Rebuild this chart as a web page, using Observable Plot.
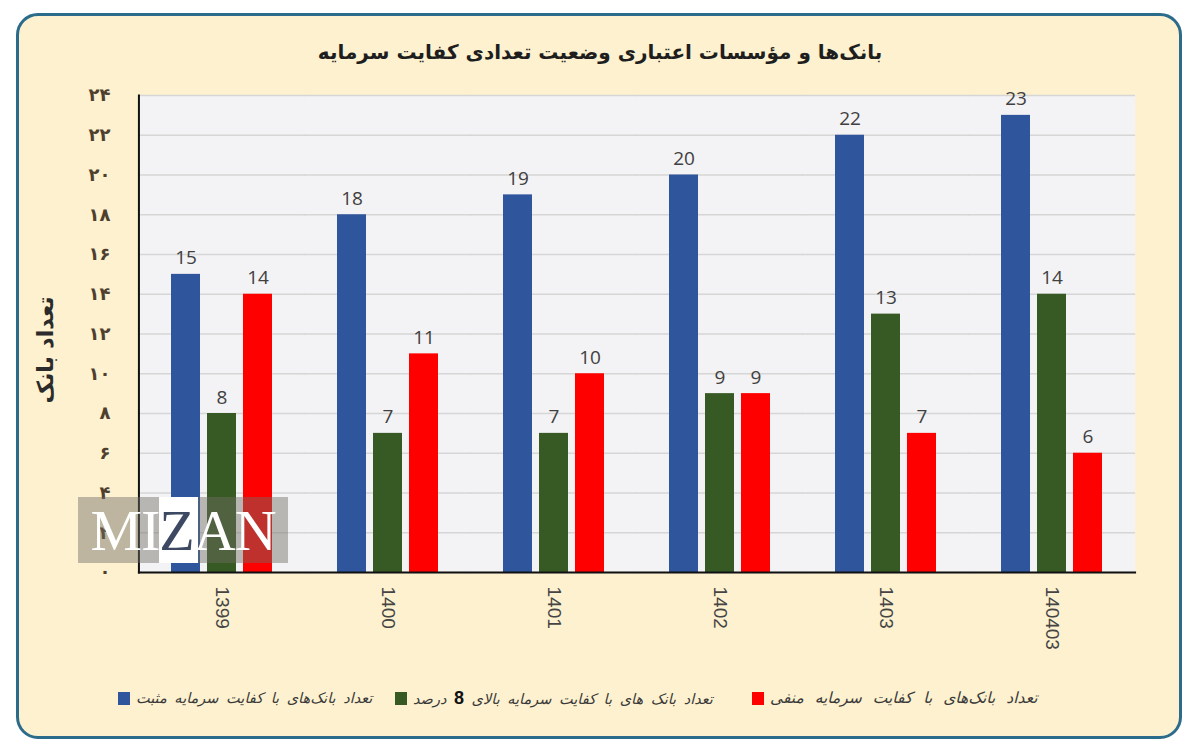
<!DOCTYPE html>
<html>
<head>
<meta charset="utf-8">
<script src="https://cdn.jsdelivr.net/npm/d3@7"></script>
<script src="https://cdn.jsdelivr.net/npm/@observablehq/plot@0.6"></script>
<style>
  html, body { margin: 0; padding: 0; background: #ffffff; }
  body { width: 1200px; height: 753px; position: relative; overflow: hidden; font-family: "DejaVu Sans", sans-serif; }
  #frame { position: absolute; left: 16px; top: 13px; width: 1160px; height: 720px; border: 3px solid #2b6b8c; border-radius: 22px; background: #fdf1cf; }
  #title { position: absolute; left: 0; width: 1200px; top: 40px; text-align: center; direction: rtl; font-size: 20px; font-weight: bold; color: #1e1e1e; }
  #chart { position: absolute; left: 0; top: 0; }
  #ylabel { position: absolute; left: 45px; top: 350px; transform: translate(-50%, -50%) rotate(-90deg); white-space: nowrap; direction: rtl; font-size: 22px; font-weight: bold; color: #2b2b2b; }
  #legend { position: absolute; top: 686px; left: 0; width: 1200px; height: 24px; }
  .item { position: absolute; top: 0; display: flex; align-items: center; height: 24px; }
  .sw { width: 12px; height: 13px; margin-right: 6px; }
  .lt { direction: rtl; font-size: 14.5px; font-style: italic; color: #3a3a3a; white-space: nowrap; word-spacing: 3px; }
  .lt b { font-size: 18px; font-style: normal; color: #111; font-family: "Liberation Sans", sans-serif; }
  .lt.wide { font-size: 15.5px; word-spacing: 6px; }
  #wm { position: absolute; left: 78px; top: 497px; width: 210px; height: 66px; background: rgba(110,108,100,0.45); overflow: hidden; }
  #wmz { position: absolute; left: 81px; top: 0px; width: 39px; height: 66px; background: #ffffff; }
  #wmt { position: absolute; left: 0; top: 4px; width: 210px; text-align: center; font-family: "Liberation Serif", serif; font-size: 58px; color: #ffffff; letter-spacing: -1px; line-height: 60px; }
  #wmt span { color: #3d4863; }
</style>
</head>
<body>
<div id="frame"></div>
<div id="title">بانک‌ها و مؤسسات اعتباری وضعیت تعدادی کفایت سرمایه</div>
<div id="chart"></div>
<div id="ylabel">تعداد بانک</div>
<div id="legend"></div>
<div id="wm"><div id="wmz"></div><div id="wmt">MI<span>Z</span>AN</div></div>
<script>
const years = ["1399", "1400", "1401", "1402", "1403", "140403"];
const seriesNames = [
  "تعداد بانک‌های با کفایت سرمایه مثبت",
  "تعداد بانک های با کفایت سرمایه بالای 8 درصد",
  "تعداد بانک‌های با کفایت سرمایه منفی"
];
const positiveCar = [15, 18, 19, 20, 22, 23];
const above8Car = [8, 7, 7, 9, 13, 14];
const negativeCar = [14, 11, 10, 9, 7, 6];
const seriesColors = ["#2f559c", "#375a24", "#ff0000"];
const yTicks = [0, 2, 4, 6, 8, 10, 12, 14, 16, 18, 20, 22, 24];
const yTickLabels = ["۰", "۲", "۴", "۶", "۸", "۱۰", "۱۲", "۱۴", "۱۶", "۱۸", "۲۰", "۲۲", "۲۴"];

const seriesValues = [positiveCar, above8Car, negativeCar];
const data = [];
years.forEach((yr, i) => {
  seriesNames.forEach((s, j) => {
    data.push({year: yr, series: s, value: seriesValues[j][i]});
  });
});

const W = 1200, H = 680, mL = 138, mR = 65, mT = 95, mB = 108;
const fxPadInner = 0.38, fxPadOuter = 0.19;
// gap between facet bands, used so per-facet gridlines and frames join up
const step = (W - mL - mR) / (years.length - fxPadInner + 2 * fxPadOuter);
const half = step * fxPadInner / 2 + 0.5;
const outer = step * fxPadOuter;

const chart = Plot.plot({
  width: W,
  height: H,
  marginLeft: mL,
  marginRight: mR,
  marginTop: mT,
  marginBottom: mB,
  style: {background: "transparent", overflow: "visible"},
  fx: {domain: years, paddingInner: fxPadInner, paddingOuter: fxPadOuter, label: null},
  x: {domain: seriesNames, paddingInner: 0.19, paddingOuter: 0, axis: null},
  y: {domain: [0, 24], label: null},
  color: {domain: seriesNames, range: seriesColors},
  marks: [
    Plot.frame({facet: "super", fill: "#f3f2f4", stroke: null, insetLeft: -outer, insetRight: -outer}),
    Plot.ruleY(yTicks, {stroke: "#d6d6d6", strokeWidth: 1.3, insetLeft: -half, insetRight: -half}),
    Plot.barY(data, {fx: "year", x: "series", y: "value", fill: "series"}),
    Plot.text(data, {fx: "year", x: "series", y: "value", text: d => String(d.value), dy: -10, lineAnchor: "bottom", fontSize: 19, fill: "#404040", fontFamily: "Open Sans, Lato, sans-serif"}),
    Plot.frame({facet: "super", anchor: "bottom", stroke: "#111", strokeWidth: 2, insetLeft: -outer, insetRight: -outer}),
    Plot.frame({facet: "super", anchor: "left", stroke: "#111", strokeWidth: 2, insetLeft: -outer}),
    Plot.axisY({ticks: yTicks, tickFormat: d => yTickLabels[yTicks.indexOf(d)], tickSize: 0, tickPadding: 60, fontSize: 18, fontWeight: "bold", fill: "#4f3f2e", label: null, fontFamily: "DejaVu Sans"}),
    Plot.axisFx({anchor: "bottom", tickRotate: 90, tickSize: 0, tickPadding: 14, fontSize: 19, fill: "#454545", label: null, fontFamily: "Liberation Sans, sans-serif"})
  ]
});
document.getElementById("chart").appendChild(chart);

// legend
const legend = document.getElementById("legend");
const lefts = [118, 395, 752];
seriesNames.forEach((s, j) => {
  const it = document.createElement("div");
  it.className = "item";
  it.style.left = lefts[j] + "px";
  const sw = document.createElement("div");
  sw.className = "sw";
  sw.style.background = seriesColors[j];
  const lt = document.createElement("div");
  lt.className = j === 2 ? "lt wide" : "lt";
  lt.innerHTML = s.replace("8", "<b>8</b>");
  it.appendChild(sw);
  it.appendChild(lt);
  legend.appendChild(it);
});
</script>
</body>
</html>
